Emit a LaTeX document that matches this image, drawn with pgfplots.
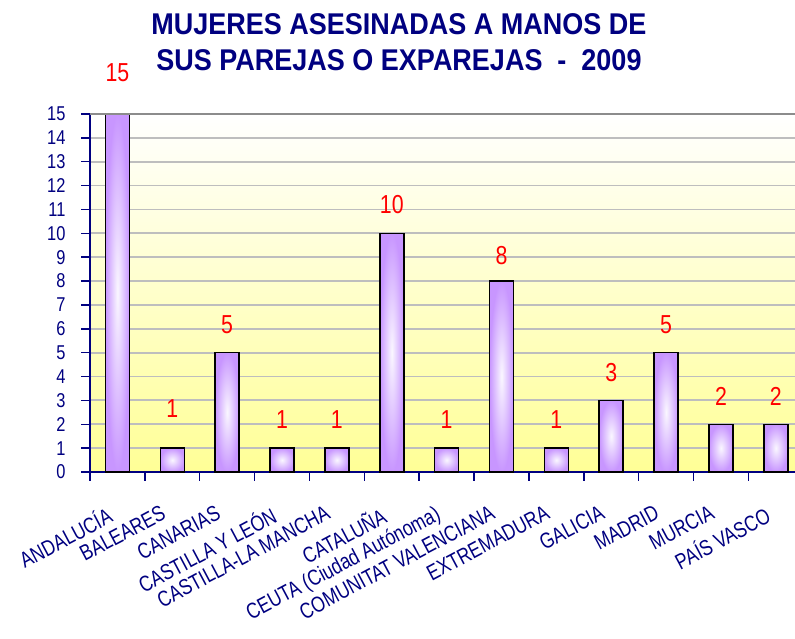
\documentclass[border=0pt]{standalone}
\usepackage{fontspec}
\setmainfont{Liberation Sans}
\newfontfamily\narrowfont{Liberation Sans}[FakeStretch=0.82]
\newfontfamily\labelfont{Liberation Sans}[FakeStretch=0.8]
\newfontfamily\titlefont{Liberation Sans}[FakeStretch=0.9]
\usepackage{pgfplots}
\pgfplotsset{compat=1.18}

\definecolor{navytext}{RGB}{0,0,128}
\definecolor{barpurple}{RGB}{200,150,255}
\definecolor{barcenter}{RGB}{250,247,255}
\definecolor{bgyellow}{RGB}{255,255,150}
\definecolor{gridgray}{RGB}{190,190,190}
\definecolor{topgray}{RGB}{140,140,140}

% one bar per region so every bar gets its own shading;
% the style argument is the label offset above the bar top (pt)
\pgfplotsset{
  regionbar/.style={ybar, bar width=24pt, bar shift=0pt, draw=black, line width=1.5pt,
    shading=radial, inner color=barcenter, outer color=barpurple,
    nodes near coords,
    every node near coord/.append style={font=\narrowfont\fontsize{26}{30}\selectfont,
      text=red, anchor=center, yshift=#1pt}},
}

\begin{document}
\begin{tikzpicture}
\useasboundingbox (-90pt,-167pt) rectangle (705pt,472pt);
\begin{axis}[
  scale only axis, width=705pt, height=358pt,
  at={(0pt,0pt)}, anchor=south west,
  clip=false,
  xmin=-0.5, xmax=12.35, ymin=0, ymax=15,
  axis x line*=bottom, axis y line*=left,
  axis line style={navytext, line width=1.5pt, -},
  xtick={0,...,12},
  xticklabels={ANDALUCÍA, BALEARES, CANARIAS, CASTILLA Y LEÓN, CASTILLA-LA MANCHA, CATALUÑA, CEUTA (Ciudad Autónoma), COMUNITAT VALENCIANA, EXTREMADURA, GALICIA, MADRID, MURCIA, PAÍS VASCO},
  minor xtick={-0.5,0.5,...,11.5},
  ytick={0,...,15},
  tick align=outside,
  major tick length=9pt, minor tick length=9pt,
  major x tick style={draw=none},
  minor x tick style={navytext, line width=1.5pt},
  ytick style={navytext, line width=1.5pt},
  ymajorgrids, y grid style={gridgray, line width=1.8pt},
  axis background/.style={shade, top color=white, bottom color=bgyellow},
  /pgf/number format/assume math mode=true,
  yticklabel style={font=\narrowfont\fontsize{20}{24}\selectfont, text=navytext, xshift=-12pt},
  xticklabel style={font=\labelfont\fontsize{22}{26}\selectfont, text=navytext, inner sep=1pt, xshift=-12pt, yshift=-22pt, rotate=28, anchor=north east},
]
\addplot[regionbar=41] coordinates {(0,15)};
\addplot[regionbar=40] coordinates {(1,1)};
\addplot[regionbar=28] coordinates {(2,5)};
\addplot[regionbar=29] coordinates {(3,1)};
\addplot[regionbar=29] coordinates {(4,1)};
\addplot[regionbar=29] coordinates {(5,10)};
\addplot[regionbar=29] coordinates {(6,1)};
\addplot[regionbar=26] coordinates {(7,8)};
\addplot[regionbar=29] coordinates {(8,1)};
\addplot[regionbar=28] coordinates {(9,3)};
\addplot[regionbar=28] coordinates {(10,5)};
\addplot[regionbar=28] coordinates {(11,2)};
\addplot[regionbar=28] coordinates {(12,2)};
\draw[topgray, line width=1.8pt] (axis cs:-0.5,15) -- (axis cs:12.35,15);
\end{axis}
\node[font=\titlefont\bfseries\fontsize{30}{36}\selectfont, text=navytext, align=center] at (309pt,430pt)
  {MUJERES ASESINADAS A MANOS DE\\SUS PAREJAS O EXPAREJAS\ \ -\ \ 2009};
\end{tikzpicture}
\end{document}
